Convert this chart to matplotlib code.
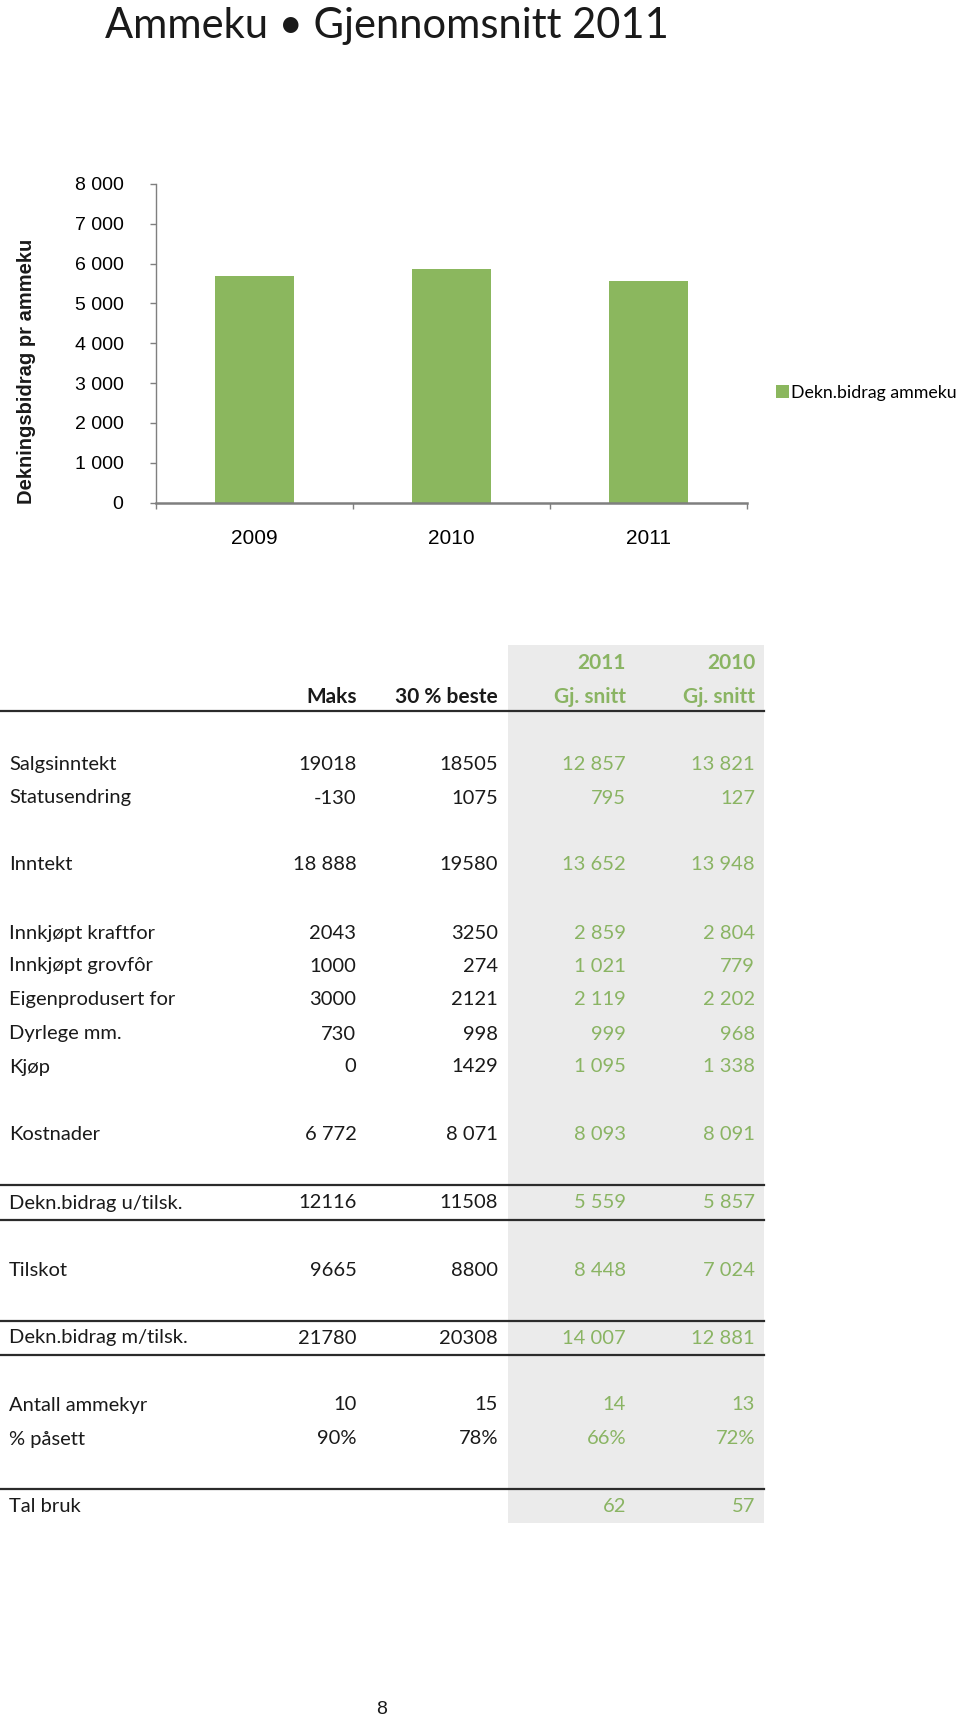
import matplotlib
matplotlib.use('Agg')
import matplotlib.pyplot as plt
from matplotlib.patches import Rectangle
from matplotlib.lines import Line2D

W, H = 960, 1721

# --- data ---
years = ['2009', '2010', '2011']
dekn_bidrag = [5700, 5857, 5559]
y_ticks = [0, 1000, 2000, 3000, 4000, 5000, 6000, 7000, 8000]

row_labels = ['Salgsinntekt', 'Statusendring', 'Inntekt', 'Innkjøpt kraftfor',
              'Innkjøpt grovfôr', 'Eigenprodusert for', 'Dyrlege mm.', 'Kjøp',
              'Kostnader', 'Dekn.bidrag u/tilsk.', 'Tilskot',
              'Dekn.bidrag m/tilsk.', 'Antall ammekyr', '% påsett', 'Tal bruk']
maks = ['19018', '-130', '18 888', '2043', '1000', '3000', '730', '0',
        '6 772', '12116', '9665', '21780', '10', '90%', '']
beste_30 = ['18505', '1075', '19580', '3250', '274', '2121', '998', '1429',
            '8 071', '11508', '8800', '20308', '15', '78%', '']
snitt_2011 = ['12 857', '795', '13 652', '2 859', '1 021', '2 119', '999', '1 095',
              '8 093', '5 559', '8 448', '14 007', '14', '66%', '62']
snitt_2010 = ['13 821', '127', '13 948', '2 804', '779', '2 202', '968', '1 338',
              '8 091', '5 857', '7 024', '12 881', '13', '72%', '57']

# --- layout (pixels in the page) ---
row_y = [764, 798, 865, 933, 966, 1000, 1034, 1067, 1135, 1203, 1270, 1338,
         1405, 1439, 1506]
rule_y = [711, 1185, 1220, 1321, 1355, 1489]
col_right = [356.5, 498, 626, 755]

GREEN = '#8bb75e'
GREEN_TXT = '#8ab463'
GREY_BG = '#ebebeb'
TXT = '#1a1a1a'
GILL = 'Lato'
ARIAL = 'Liberation Sans'


def fx(x):
    return x / W


def fy(y):
    return 1 - y / H


fig = plt.figure(figsize=(W / 100, H / 100), dpi=100)

# title
fig.text(fx(105), fy(38), 'Ammeku • Gjennomsnitt 2011', fontsize=30,
         family=GILL, color=TXT, ha='left', va='baseline')

# --- bar chart ---
ax = fig.add_axes([fx(155.5), fy(502.5), fx(747) - fx(155.5), (502.5 - 184) / H])
ax.bar(range(len(years)), dekn_bidrag, width=0.4, color=GREEN,
       label='Dekn.bidrag ammeku', zorder=2)
ax.set_xlim(-0.5, 2.5)
ax.set_ylim(0, 8000)
ax.set_yticks(y_ticks)
ax.set_yticklabels([f'{v:,}'.replace(',', ' ') for v in y_ticks],
                   family=ARIAL, fontsize=14)
ax.tick_params(axis='y', length=4.5, width=1, color='#7f7f7f', pad=18.5)
ax.set_xticks(range(len(years)))
ax.set_xticklabels(years, family=ARIAL, fontsize=15)
ax.tick_params(axis='x', which='major', length=0, pad=19)
ax.set_xticks([-0.5, 0.5, 1.5, 2.5], minor=True)
ax.tick_params(axis='x', which='minor', length=4.5, width=1, color='#7f7f7f')
for s in ['top', 'right']:
    ax.spines[s].set_visible(False)
ax.spines['left'].set_color('#7f7f7f')
ax.spines['left'].set_linewidth(1)
ax.spines['bottom'].set_color('#7f7f7f')
ax.spines['bottom'].set_linewidth(1.8)

ax.legend(loc='center left', bbox_to_anchor=(fx(776), fy(393)),
          bbox_transform=fig.transFigure, frameon=False, borderpad=0,
          borderaxespad=0, handlelength=0.75, handleheight=0.75,
          handletextpad=0.1, prop={'family': GILL, 'size': 12.8})

fig.text(fx(27), fy(371.5), 'Dekningsbidrag pr ammeku', rotation=90,
         family=ARIAL, fontsize=14.5, fontweight='bold', color=TXT,
         ha='center', va='center')

# --- table ---
fig.patches.append(Rectangle((fx(508), fy(1523)), fx(764) - fx(508),
                             (1523 - 645) / H, transform=fig.transFigure,
                             facecolor=GREY_BG, edgecolor='none', zorder=0))

for y in rule_y:
    fig.lines.append(Line2D([fx(0), fx(764)], [fy(y), fy(y)],
                            transform=fig.transFigure, color='#2b2b2b', lw=1.6))

head_kw = dict(family=GILL, fontsize=15, fontweight='bold', ha='right',
               va='center')
fig.text(fx(col_right[0]), fy(697), 'Maks', color=TXT, **head_kw)
fig.text(fx(col_right[1]), fy(697), '30 % beste', color=TXT, **head_kw)
fig.text(fx(col_right[2]), fy(663), '2011', color=GREEN_TXT, **head_kw)
fig.text(fx(col_right[3]), fy(663), '2010', color=GREEN_TXT, **head_kw)
fig.text(fx(col_right[2]), fy(697), 'Gj. snitt', color=GREEN_TXT, **head_kw)
fig.text(fx(col_right[3]), fy(697), 'Gj. snitt', color=GREEN_TXT, **head_kw)

cell_kw = dict(family=GILL, fontsize=14.5, va='center')
columns = [(maks, TXT), (beste_30, TXT), (snitt_2011, GREEN_TXT),
           (snitt_2010, GREEN_TXT)]
for i, label in enumerate(row_labels):
    y = fy(row_y[i])
    fig.text(fx(9), y, label, color=TXT, ha='left', **cell_kw)
    for (vals, col), xr in zip(columns, col_right):
        fig.text(fx(xr), y, vals[i], color=col, ha='right', **cell_kw)

# page number
fig.text(fx(382), fy(1710), '8', family=ARIAL, fontsize=14, color=TXT,
         ha='center', va='center')

fig.savefig('out.png', dpi=100)
